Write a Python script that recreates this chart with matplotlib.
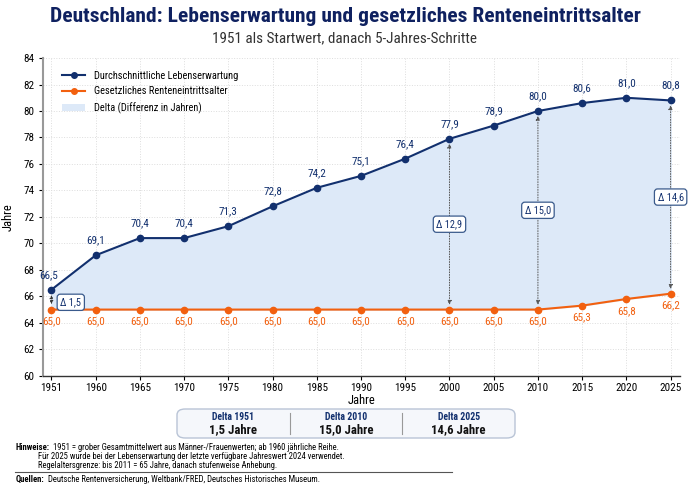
import matplotlib
matplotlib.use("Agg")
import matplotlib.pyplot as plt
from matplotlib import font_manager
from matplotlib.patches import FancyBboxPatch, Patch
from matplotlib.lines import Line2D

years = [1951, 1960, 1965, 1970, 1975, 1980, 1985, 1990, 1995, 2000, 2005, 2010, 2015, 2020, 2025]
life_exp = [66.5, 69.1, 70.4, 70.4, 71.3, 72.8, 74.2, 75.1, 76.4, 77.9, 78.9, 80.0, 80.6, 81.0, 80.8]
retire_age = [65.0, 65.0, 65.0, 65.0, 65.0, 65.0, 65.0, 65.0, 65.0, 65.0, 65.0, 65.0, 65.3, 65.8, 66.2]
delta_years = [1951, 2000, 2010, 2025]
summary_years = [1951, 2010, 2025]

NAVY = "#12306e"
ORANGE = "#f2600f"
FILL = "#dde9f8"
TITLE = "#0f2160"

names = {f.name for f in font_manager.fontManager.ttflist}
COND = None
for cand in ['Liberation Sans Narrow', 'Roboto Condensed', 'Open Sans Condensed', 'DejaVu Sans Condensed',
             'Liberation Sans']:
    if cand in names:
        COND = cand
        break
if COND is None:
    COND = 'DejaVu Sans'

plt.rcParams['font.family'] = [COND, 'DejaVu Sans']

def de(v):
    return f"{v:.1f}".replace(".", ",")

fig = plt.figure(figsize=(6.9, 4.88), dpi=100)
renderer = fig.canvas.get_renderer()

def fit(t, target_px):
    w = t.get_window_extent(renderer=renderer).width
    t.set_fontsize(t.get_fontsize() * target_px / w)

ax = fig.add_axes([0.063, 0.23, 0.923, 0.651])
x = list(range(len(years)))

ax.fill_between(x, retire_age, life_exp, color=FILL, zorder=1)
ax.plot(x, life_exp, color=NAVY, lw=1.5, marker='o', ms=4.5, zorder=4)
ax.plot(x, retire_age, color=ORANGE, lw=1.5, marker='o', ms=4.5, zorder=4)

for i, (le, ra) in enumerate(zip(life_exp, retire_age)):
    dx = -2 if i == 0 else 0
    ax.annotate(de(le), (i, le), xytext=(dx, 7), textcoords='offset points', ha='center', va='bottom',
                fontsize=8, color=NAVY, zorder=6)
    ax.annotate(de(ra), (i, ra), xytext=(0, -5), textcoords='offset points', ha='center', va='top',
                fontsize=8, color=ORANGE, zorder=6)

box_style = dict(boxstyle='round,pad=0.3', fc='white', ec='#3a5a8c', lw=0.9)
for yr in delta_years:
    i = years.index(yr)
    le, ra = life_exp[i], retire_age[i]
    d = le - ra
    if yr == 1951:
        ax.annotate('', xy=(i, le - 0.2), xytext=(i, ra + 0.2),
                    arrowprops=dict(arrowstyle='<|-|>', color='#333333', lw=0.6, ls=':', mutation_scale=5), zorder=5)
        ax.text(i + 0.2, (le + ra) / 2 - 0.2, 'Δ ' + de(d), fontsize=7.5, color=NAVY, va='center', ha='left',
                bbox=box_style, zorder=7)
    else:
        ax.annotate('', xy=(i, le - 0.15), xytext=(i, ra + 0.15),
                    arrowprops=dict(arrowstyle='<|-|>', color='#555555', lw=0.7, ls=':', mutation_scale=6), zorder=3)
        ax.text(i, (le + ra) / 2, 'Δ ' + de(d), fontsize=7.5, color=NAVY, va='center', ha='center',
                bbox=box_style, zorder=7)

ax.set_xlim(-0.18, len(years) - 1 + 0.22)
ax.set_ylim(60, 84)
ax.set_yticks(range(60, 85, 2))
ax.set_xticks(x)
ax.set_xticklabels([str(y) for y in years], fontsize=8)
ax.tick_params(axis='y', labelsize=8, length=3)
ax.tick_params(axis='x', length=3, pad=2)
ax.set_xlabel('Jahre', fontsize=9, labelpad=1)
ax.set_ylabel('Jahre', fontsize=9, labelpad=6)
ax.grid(True, color='#dddddd', ls=':', lw=0.7)
ax.set_axisbelow(True)
for s in ['top', 'right']:
    ax.spines[s].set_visible(False)
ax.spines['left'].set_color('#999999')
ax.spines['left'].set_linewidth(1.5)
ax.spines['bottom'].set_color('#333333')
ax.spines['bottom'].set_linewidth(1.0)

handles = [Line2D([0], [0], color=NAVY, lw=1.5, marker='o', ms=4),
           Line2D([0], [0], color=ORANGE, lw=1.5, marker='o', ms=4),
           Patch(facecolor=FILL, edgecolor='none')]
ax.legend(handles, ['Durchschnittliche Lebenserwartung', 'Gesetzliches Renteneintrittsalter',
                    'Delta (Differenz in Jahren)'],
          loc='upper left', bbox_to_anchor=(0.015, 0.99), frameon=False, fontsize=7.5, handlelength=2.2,
          labelspacing=0.55)

t = fig.text(0.5, 1 - 17 / 488, 'Deutschland: Lebenserwartung und gesetzliches Renteneintrittsalter', ha='center',
             va='center', fontsize=14, fontweight='bold', color=TITLE)
fit(t, 592)
t = fig.text(0.5, 1 - 38 / 488, '1951 als Startwert, danach 5-Jahres-Schritte', ha='center', va='center',
             fontsize=10, color='#333333')
fit(t, 264)

# summary box
bx0, by0, bw, bh = 177 / 690, 1 - 438 / 488, 338 / 690, 29 / 488
fig.patches.append(FancyBboxPatch((bx0, by0), bw, bh, boxstyle='round,pad=0,rounding_size=0.012',
                                  transform=fig.transFigure, fc='#f5f7fb', ec='#b9c4d6', lw=1.0))
for k, yr in enumerate(summary_years):
    i = years.index(yr)
    d = life_exp[i] - retire_age[i]
    cx = bx0 + bw * (k + 0.5) / 3
    fig.text(cx, 1 - 416.5 / 488, f'Delta {yr}', ha='center', va='center', fontsize=7, fontweight='bold', color=NAVY)
    t = fig.text(cx, 1 - 430 / 488, f'{de(d)} Jahre', ha='center', va='center', fontsize=10, fontweight='bold',
                 color='#111111')
    if k == 0:
        fit(t, 48)
        fsv = t.get_fontsize()
    else:
        t.set_fontsize(fsv)
    if k > 0:
        xx = bx0 + bw * k / 3
        fig.add_artist(Line2D([xx, xx], [1 - 434 / 488, 1 - 413 / 488], transform=fig.transFigure,
                              color='#999999', lw=0.8))

# footer
fs = 6.5
h = fig.text(16 / 690, 1 - 448 / 488, 'Hinweise:', fontsize=fs, fontweight='bold', va='center', ha='left')
t = fig.text(54 / 690, 1 - 448 / 488,
             '1951 = grober Gesamtmittelwert aus Männer-/Frauenwerten; ab 1960 jährliche Reihe.',
             fontsize=fs, va='center', ha='left')
fit(t, 289)
fs2 = t.get_fontsize()
h.set_fontsize(fs2)
hx1 = h.get_window_extent(renderer=renderer).x1
t.set_x((hx1 + 3) / 690)
fig.text(38 / 690, 1 - 456.5 / 488,
         'Für 2025 wurde bei der Lebenserwartung der letzte verfügbare Jahreswert 2024 verwendet.',
         fontsize=fs2, va='center', ha='left')
fig.text(38 / 690, 1 - 465 / 488, 'Regelaltersgrenze: bis 2011 = 65 Jahre, danach stufenweise Anhebung.',
         fontsize=fs2, va='center', ha='left')
fig.add_artist(Line2D([15 / 690, 452 / 690], [1 - 472 / 488, 1 - 472 / 488], transform=fig.transFigure,
                      color='#555555', lw=0.8))
q = fig.text(16 / 690, 1 - 479 / 488, 'Quellen:', fontsize=fs2, fontweight='bold', va='center', ha='left')
qx1 = q.get_window_extent(renderer=renderer).x1
fig.text((qx1 + 3) / 690, 1 - 479 / 488,
         'Deutsche Rentenversicherung, Weltbank/FRED, Deutsches Historisches Museum.',
         fontsize=fs2, va='center', ha='left')

fig.savefig('out.png', dpi=100)
